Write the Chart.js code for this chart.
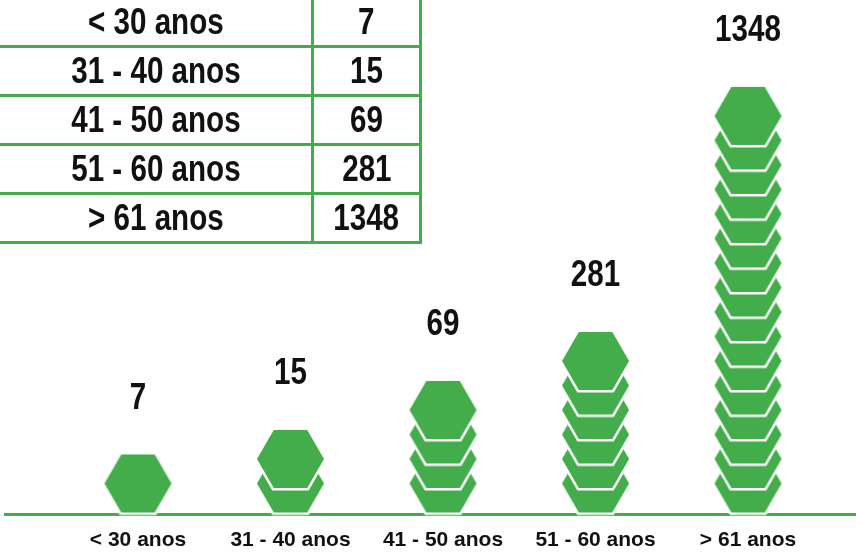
<!DOCTYPE html>
<html>
<head>
<meta charset="utf-8">
<script src="https://cdn.jsdelivr.net/npm/chart.js@4"></script>
<style>
  html, body { margin: 0; padding: 0; background: #fff; }
  #wrap { position: relative; width: 856px; height: 553px; overflow: hidden; }
  #chart { position: absolute; left: 0; top: 0; }
  #ageTable {
    position: absolute; left: -3px; top: -4px;
    border-collapse: collapse;
    font-family: "Liberation Sans", Arial, sans-serif;
    font-weight: bold; font-size: 37px; color: #111;
  }
  #ageTable td {
    border: 3px solid #42ad4a;
    height: 46px; padding: 0; text-align: center; line-height: 46px;
  }
  #ageTable td span { display: inline-block; transform: scaleX(0.8); white-space: nowrap; }
  #ageTable td.lbl { width: 311px; }
  #ageTable td.val { width: 105px; }
</style>
</head>
<body>
<div id="wrap">
  <canvas id="chart" width="856" height="553"></canvas>
  <table id="ageTable"><tbody id="tableBody"></tbody></table>
</div>
<script>
const categories = ["< 30 anos", "31 - 40 anos", "41 - 50 anos", "51 - 60 anos", "> 61 anos"];
const counts = [7, 15, 69, 281, 1348];
// number of stacked hexagon icons drawn for each age group
const hexagons = [1, 2, 4, 6, 16];

const green = "#42ad4a";
const fontFamily = "'Liberation Sans', Arial, sans-serif";

// table in the top left corner
const esc = s => s.replace("<", "&lt;").replace(">", "&gt;");
const tableBody = document.getElementById("tableBody");
categories.forEach((c, i) => {
  tableBody.innerHTML += `<tr><td class="lbl"><span>${esc(c)}</span></td><td class="val"><span>${counts[i]}</span></td></tr>`;
});

// hexagon icon used as point style
function makeHex() {
  const r = 33.5, h = 58, pad = 4;
  const c = document.createElement("canvas");
  c.width = Math.round(2 * r + pad * 2);
  c.height = Math.round(h + pad * 2);
  const g = c.getContext("2d");
  const cx = c.width / 2, cy = c.height / 2;
  g.beginPath();
  g.moveTo(cx - r, cy);
  g.lineTo(cx - r / 2, cy - h / 2);
  g.lineTo(cx + r / 2, cy - h / 2);
  g.lineTo(cx + r, cy);
  g.lineTo(cx + r / 2, cy + h / 2);
  g.lineTo(cx - r / 2, cy + h / 2);
  g.closePath();
  g.lineWidth = 5;
  g.strokeStyle = "#fff";
  g.stroke();
  g.fillStyle = green;
  g.fill();
  return c;
}
const hex = makeHex();

const points = [];
const topIndex = [];
hexagons.forEach((n, i) => {
  for (let k = 0; k < n; k++) points.push({ x: i, y: k });
  topIndex.push(points.length - 1);
});

const valueLabels = {
  id: "valueLabels",
  afterDatasetsDraw(chart) {
    const meta = chart.getDatasetMeta(0);
    const ctx = chart.ctx;
    ctx.save();
    ctx.font = "bold 37px " + fontFamily;
    ctx.fillStyle = "#111";
    ctx.textAlign = "center";
    ctx.textBaseline = "middle";
    topIndex.forEach((idx, i) => {
      const el = meta.data[idx];
      ctx.save();
      ctx.translate(el.x, el.y - 29 - 56);
      ctx.scale(0.8, 1);
      ctx.fillText(String(counts[i]), 0, 0);
      ctx.restore();
    });
    ctx.restore();
  }
};

new Chart(document.getElementById("chart"), {
  type: "scatter",
  data: {
    datasets: [{
      data: points,
      pointStyle: hex,
      pointRadius: 1,
      clip: false
    }]
  },
  options: {
    responsive: false,
    animation: false,
    events: [],
    layout: { autoPadding: false, padding: { left: 5, right: 0, top: 0, bottom: 0 } },
    plugins: { legend: { display: false }, tooltip: { enabled: false } },
    scales: {
      x: {
        type: "linear",
        min: -0.872,
        max: 4.708,
        afterBuildTicks: s => { s.ticks = categories.map((_, i) => ({ value: i })); },
        afterFit: s => { s.paddingLeft = 0; s.paddingRight = 0; s.height = 39; },
        ticks: {
          autoSkip: false,
          maxRotation: 0,
          padding: 14,
          color: "#111",
          font: { family: fontFamily, size: 21, weight: "bold" },
          callback: v => categories[v]
        },
        grid: { display: false, drawTicks: false },
        border: { display: true, color: green, width: 3 }
      },
      y: {
        display: false,
        min: -1.245,
        max: 19.73
      }
    }
  },
  plugins: [valueLabels]
});
</script>
</body>
</html>
